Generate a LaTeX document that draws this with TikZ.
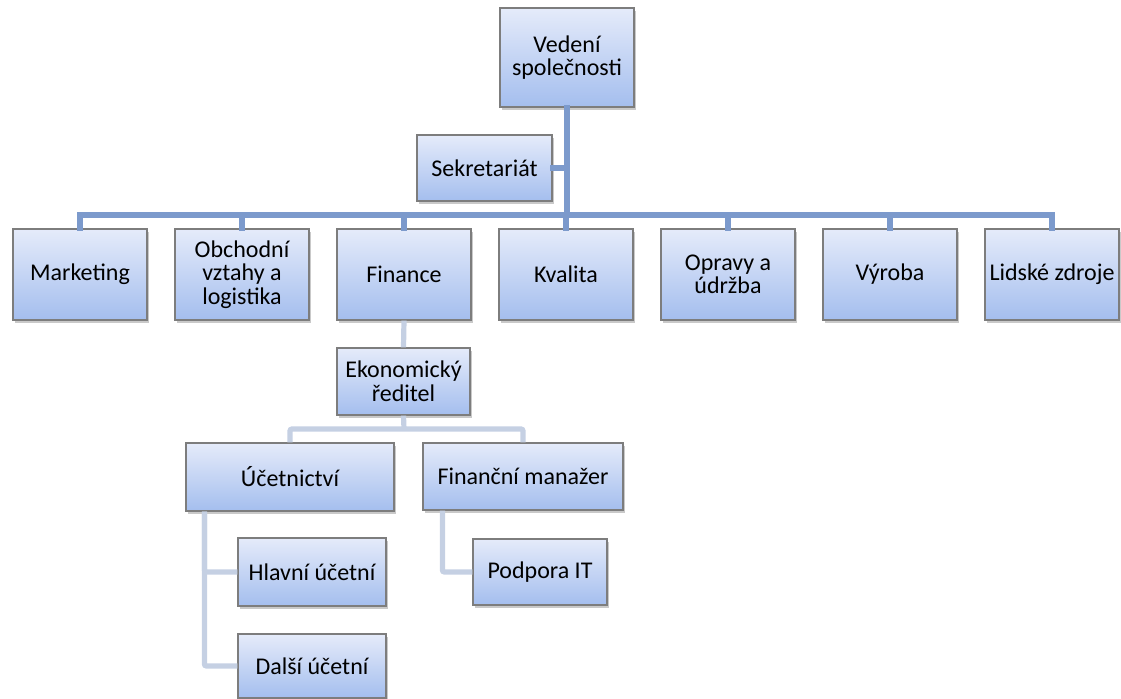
\documentclass[tikz,border=0pt]{standalone}
\usepackage{fontspec}
\setmainfont{Carlito}
\usetikzlibrary{shadows}

\definecolor{boxtop}{RGB}{229,235,250}
\definecolor{boxbot}{RGB}{164,190,238}
\definecolor{boxline}{RGB}{125,125,125}
\definecolor{mainline}{RGB}{124,154,204}
\definecolor{subline}{RGB}{197,208,227}

\begin{document}
\begin{tikzpicture}[x=0.5pt, y=-0.5pt,
    unit/.style={draw=boxline, line width=0.6pt, top color=boxtop, bottom color=boxbot,
        drop shadow={shadow xshift=1pt, shadow yshift=-1.5pt, opacity=0.3, fill=black!70},
        align=center, inner sep=0pt, font=\fontsize{12}{11.8}\selectfont},
    dept/.style={unit, minimum width=67pt, minimum height=45.5pt},
    mainconn/.style={draw=mainline, line width=2.6pt, line cap=rect},
    subconn/.style={draw=subline, line width=2.6pt, rounded corners=1pt}]

    \useasboundingbox (0,0) rectangle (1121,699);

    % Top of the company
    \node[unit, minimum width=67pt, minimum height=49.5pt] (ved) at (567,57.5) {Vedení\\společnosti};
    \node[unit, minimum width=67.5pt, minimum height=33pt] (sek) at (484.5,168) {Sekretariát};

    % Departments
    \foreach \nm/\x/\txt in {mkt/80/Marketing, obch/242/{Obchodní\\vztahy a\\logistika},
        fin/404/Finance, kval/566/Kvalita, opr/728/{Opravy a\\údržba},
        vyr/890/Výroba, lz/1052/{Lidské zdroje}}
        \node[dept] (\nm) at (\x,274.5) {\txt};

    % Finance branch
    \node[unit, minimum width=66.5pt, minimum height=33.5pt] (eko) at (403.5,381.5) {Ekonomický\\ředitel};
    \node[unit, minimum width=104pt, minimum height=34pt] (uct) at (290,477) {Účetnictví};
    \node[unit, minimum width=100pt, minimum height=33.5pt] (fm) at (523,476.5) {Finanční manažer};
    \node[unit, minimum width=74pt, minimum height=34pt] (hla) at (312,572) {Hlavní účetní};
    \node[unit, minimum width=74pt, minimum height=32pt] (dal) at (312,666) {Další účetní};
    \node[unit, minimum width=67pt, minimum height=33pt] (pit) at (540,572) {Podpora IT};

    % Main connectors
    \coordinate (busL) at (80,215);
    \draw[mainconn] (ved.south) -- (ved.south |- busL);
    \draw[mainconn] (sek.east) -- (sek.east -| ved.south);
    \draw[mainconn] (mkt.north |- busL) -- (lz.north |- busL);
    \foreach \nm in {mkt,obch,fin,kval,opr,vyr,lz}
        \draw[mainconn] (\nm.north) -- (\nm.north |- busL);

    % Lower connectors
    \coordinate (ekobus) at (404,429);
    \draw[subconn] (fin.south) -- (eko.north);
    \draw[subconn] (eko.south) -- (ekobus);
    \draw[subconn] (uct.north) |- (ekobus) -| (fm.north);
    \draw[subconn] ([xshift=9.5pt]uct.south west) |- (hla.west);
    \draw[subconn] ([xshift=9.5pt]uct.south west) |- (dal.west);
    \draw[subconn] ([xshift=10pt]fm.south west) |- (pit.west);

\end{tikzpicture}
\end{document}
